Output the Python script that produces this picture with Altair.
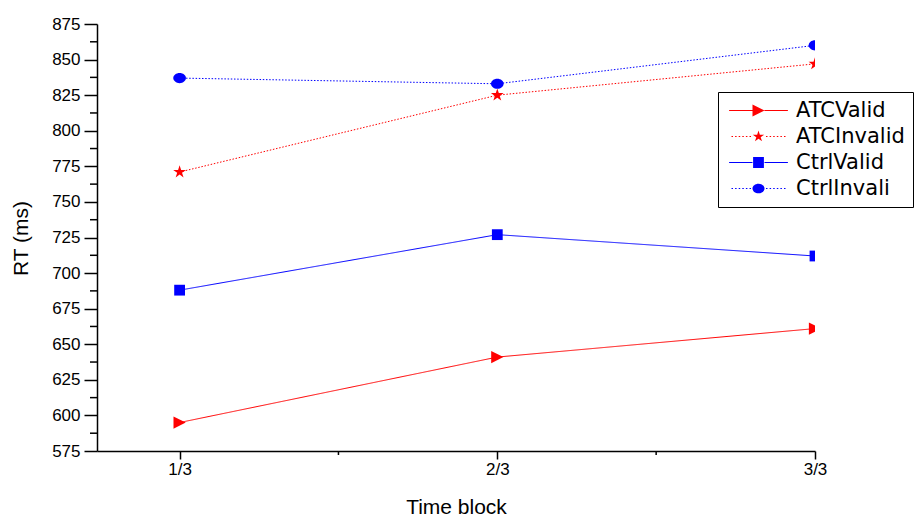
import json
import altair as alt
import pandas as pd

# ---------------- data ----------------
blocks = [1, 2, 3]
block_labels = ["1/3", "2/3", "3/3"]
series_names = ["ATCValid", "ATCInvalid", "CtrlValid", "CtrlInvali"]
atc_valid = [595, 641, 661]
atc_invalid = [771, 825, 847]
ctrl_valid = [688, 727, 712]
ctrl_invalid = [837, 833, 860]
series_values = [atc_valid, atc_invalid, ctrl_valid, ctrl_invalid]
series_colors = ["#ff0000", "#ff0000", "#0000ff", "#0000ff"]
series_dotted = [False, True, False, True]
y_ticks = list(range(575, 876, 25))
y_minor_ticks = [t + 12.5 for t in y_ticks[:-1]]
x_minor_ticks = [1.5, 2.5]

rows = []
for name, vals in zip(series_names, series_values):
    for b, v in zip(blocks, vals):
        rows.append({"series": name, "block": b, "rt": v})
df = pd.DataFrame(rows)
df_xminor = pd.DataFrame({"block": x_minor_ticks})
df_yminor = pd.DataFrame({"rt": y_minor_ticks})

# ---------------- style ----------------
W, H = 718, 427
FONT = "Liberation Sans"
LEGEND_FONT = "DejaVu Sans"

TRI = "M-1,-1L1,0L-1,1Z"
STAR = ("M0,-1L0.2245,-0.309L0.951,-0.309L0.363,0.118L0.588,0.809L0,0.382"
        "L-0.588,0.809L-0.363,0.118L-0.951,-0.309L-0.2245,-0.309Z")
SQUARE = "M-0.9,-0.9H0.9V0.9H-0.9Z"
ELLIPSE = "M-1,0A1,0.8,0,1,1,1,0A1,0.8,0,1,1,-1,0Z"
marker_paths = [TRI, STAR, SQUARE, ELLIPSE]
marker_sizes = [150, 180, 144, 160]


def legend_line(dotted, half=4.9, gap=1.0):
    if not dotted:
        t = 0.085
        return (f"M{-half},{-t}H{-gap}V{t}H{-half}Z"
                f"M{gap},{-t}H{half}V{t}H{gap}Z")
    t = 0.1
    parts = []
    d, period = 0.25, 0.6
    x = gap + 0.25
    while x + d <= half:
        for s in (-1, 1):
            x0, x1 = sorted((s * x, s * (x + d)))
            parts.append(f"M{x0:.3f},{-t}H{x1:.3f}V{t}H{x0:.3f}Z")
        x += period
    return "".join(parts)


legend_paths = [legend_line(d) + p for d, p in zip(series_dotted, marker_paths)]
dash_list = [[1.5, 1.7] if d else [1, 0] for d in series_dotted]

X = alt.X(
    "block:Q",
    scale=alt.Scale(domain=[0.74, 3], nice=False, zero=False),
    axis=alt.Axis(
        values=blocks,
        labelExpr=f"{json.dumps(block_labels)}[datum.value - 1]",
        title="Time block",
        grid=False,
        tickSize=8, tickWidth=1.5, tickColor="black",
        domainWidth=1.5, domainColor="black",
        labelFont=FONT, labelFontSize=17, labelColor="black",
        labelPadding=2, labelFlush=False,
        titleFont=FONT, titleFontSize=21, titleFontWeight="normal",
        titleColor="black", titleY=56, titleBaseline="middle",
    ),
)
Y = alt.Y(
    "rt:Q",
    scale=alt.Scale(domain=[575, 875], nice=False, zero=False),
    axis=alt.Axis(
        values=y_ticks,
        title="RT (ms)",
        grid=False,
        tickSize=13, tickWidth=1.5, tickColor="black",
        domainWidth=1.5, domainColor="black",
        labelFont=FONT, labelFontSize=17, labelColor="black",
        labelPadding=4,
        titleFont=FONT, titleFontSize=21, titleFontWeight="normal",
        titleColor="black", titleX=-76, titleY=214, titleAngle=270,
        titleBaseline="middle",
    ),
)

line_layers = []
point_layers = []
for name, col, path, sz, dash in zip(series_names, series_colors, marker_paths,
                                     marker_sizes, dash_list):
    sub = alt.Chart(df).transform_filter(alt.datum.series == name)
    line_layers.append(
        sub.mark_line(strokeWidth=1, color=col, strokeDash=dash).encode(x=X, y=Y)
    )
    point_layers.append(
        sub.mark_point(shape=path, filled=True, size=sz, opacity=1, color=col,
                       strokeWidth=0, clip=True).encode(x=X, y=Y)
    )

leg = alt.Legend(
    orient="none", legendX=621, legendY=68, padding=8,
    strokeColor="black", fillColor="white",
    symbolOffset=22, labelOffset=27, rowPadding=4,
    labelFont=LEGEND_FONT, labelFontSize=21, labelColor="black", labelLimit=400,
    symbolSize=144, symbolStrokeWidth=0,
)
legend_layer = (
    alt.Chart(df)
    .transform_filter("false")
    .mark_point(filled=True, size=144, opacity=1)
    .encode(
        x=X, y=Y,
        color=alt.Color("series:N", scale=alt.Scale(domain=series_names, range=series_colors),
                        title=None, legend=leg),
        shape=alt.Shape("series:N", scale=alt.Scale(domain=series_names, range=legend_paths),
                        title=None, legend=leg),
    )
)

xminor = alt.Chart(df_xminor).mark_rule(color="black", strokeWidth=1.5).encode(
    x=X, y=alt.value(H), y2=alt.value(H + 4)
)
yminor = alt.Chart(df_yminor).mark_rule(color="black", strokeWidth=1.5).encode(
    y=Y, x=alt.value(-7), x2=alt.value(0)
)

chart = (
    alt.layer(*line_layers, *point_layers, legend_layer, xminor, yminor)
    .properties(
        width=W, height=H,
        padding={"left": 97, "top": 24, "right": 107, "bottom": 67},
        autosize=alt.AutoSizeParams(type="none"),
        background="white",
    )
    .configure_view(strokeWidth=0)
)

chart.save("out.html", embed_options={"renderer": "svg", "actions": False})
